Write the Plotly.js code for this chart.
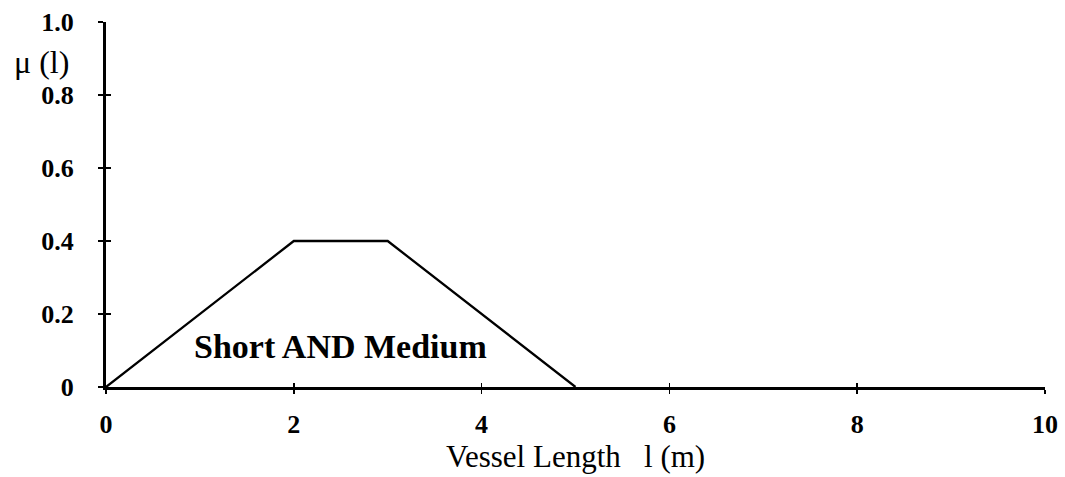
<!DOCTYPE html>
<html>
<head>
<meta charset="utf-8">
<script src="https://cdn.plot.ly/plotly-3.0.1.min.js"></script>
<style>html,body{margin:0;padding:0;background:#fff;}#chart{width:1065px;height:477px;}</style>
</head>
<body>
<div id="chart"></div>
<script>
const lengthM = [0, 2, 3, 5];
const membership = [0, 0.4, 0.4, 0];
const xTickVals = [0, 2, 4, 6, 8, 10];
const xTickText = ["0", "2", "4", "6", "8", "10"];
const yTickVals = [0, 0.2, 0.4, 0.6, 0.8, 1.0];
const yTickText = ["0", "0.2", "0.4", "0.6", "0.8", "1.0"];
const labelText = "Short AND Medium";
const xTitle = "Vessel Length&nbsp;&nbsp; l (m)";
const yTitle = "μ (l)";

const serif = "Times New Roman";
const bold = s => "<b>" + s + "</b>";

const trace = {
  x: lengthM, y: membership, type: "scatter", mode: "lines",
  line: {color: "#000", width: 2.3}, hoverinfo: "skip", cliponaxis: false
};
const ghost = {
  x: [0], y: [0], xaxis: "x2", yaxis: "y2", type: "scatter", mode: "markers",
  marker: {opacity: 0}, hoverinfo: "skip"
};

const pw = 1065 - 106 - 20, ph = 477 - 22 - 90;

const layout = {
  width: 1065, height: 477,
  margin: {l: 106, r: 20, t: 22, b: 90},
  paper_bgcolor: "#fff", plot_bgcolor: "#fff",
  showlegend: false,
  font: {family: serif, color: "#000"},
  xaxis: {
    range: [0, 10], tickvals: xTickVals, ticktext: xTickText.map(bold),
    showgrid: false, zeroline: false, showline: true, linecolor: "#000", linewidth: 2.5,
    ticks: "outside", ticklen: 4, tickwidth: 1.5, tickcolor: "#000",
    tickfont: {family: serif, size: 26, color: "#000"},
    ticklabelstandoff: 8,
    fixedrange: true
  },
  yaxis: {
    range: [0, 1], tickvals: yTickVals, ticktext: yTickText.map(bold),
    showgrid: false, zeroline: false, showline: true, linecolor: "#000", linewidth: 3,
    ticks: "outside", ticklen: 5, tickwidth: 2, tickcolor: "#000",
    tickfont: {family: serif, size: 26, color: "#000"},
    ticklabelstandoff: 19,
    fixedrange: true
  },
  xaxis2: {
    overlaying: "x", range: [0, 10], tickvals: xTickVals, showticklabels: false,
    showgrid: false, zeroline: false, showline: false,
    ticks: "inside", ticklen: 4, tickwidth: 1.5, tickcolor: "#000", fixedrange: true
  },
  yaxis2: {
    overlaying: "y", range: [0, 1], tickvals: yTickVals, showticklabels: false,
    showgrid: false, zeroline: false, showline: false, side: "left",
    ticks: "inside", ticklen: 5, tickwidth: 2, tickcolor: "#000", fixedrange: true
  },
  annotations: [
    {text: bold(labelText), x: 2.5, y: 0.11, xref: "x", yref: "y", showarrow: false,
     font: {family: serif, size: 34, color: "#000"}, xanchor: "center", yanchor: "middle"},
    {text: yTitle, x: (41 - 106) / pw, y: (387 - 62) / ph, xref: "paper", yref: "paper", showarrow: false,
     font: {family: serif, size: 32, color: "#000"}, xanchor: "center", yanchor: "middle"},
    {text: xTitle, x: 0.5, y: (387 - 456) / ph, xref: "paper", yref: "paper", showarrow: false,
     font: {family: serif, size: 31, color: "#000"}, xanchor: "center", yanchor: "middle"}
  ]
};

Plotly.newPlot("chart", [trace, ghost], layout, {displayModeBar: false, staticPlot: true});
</script>
</body>
</html>
